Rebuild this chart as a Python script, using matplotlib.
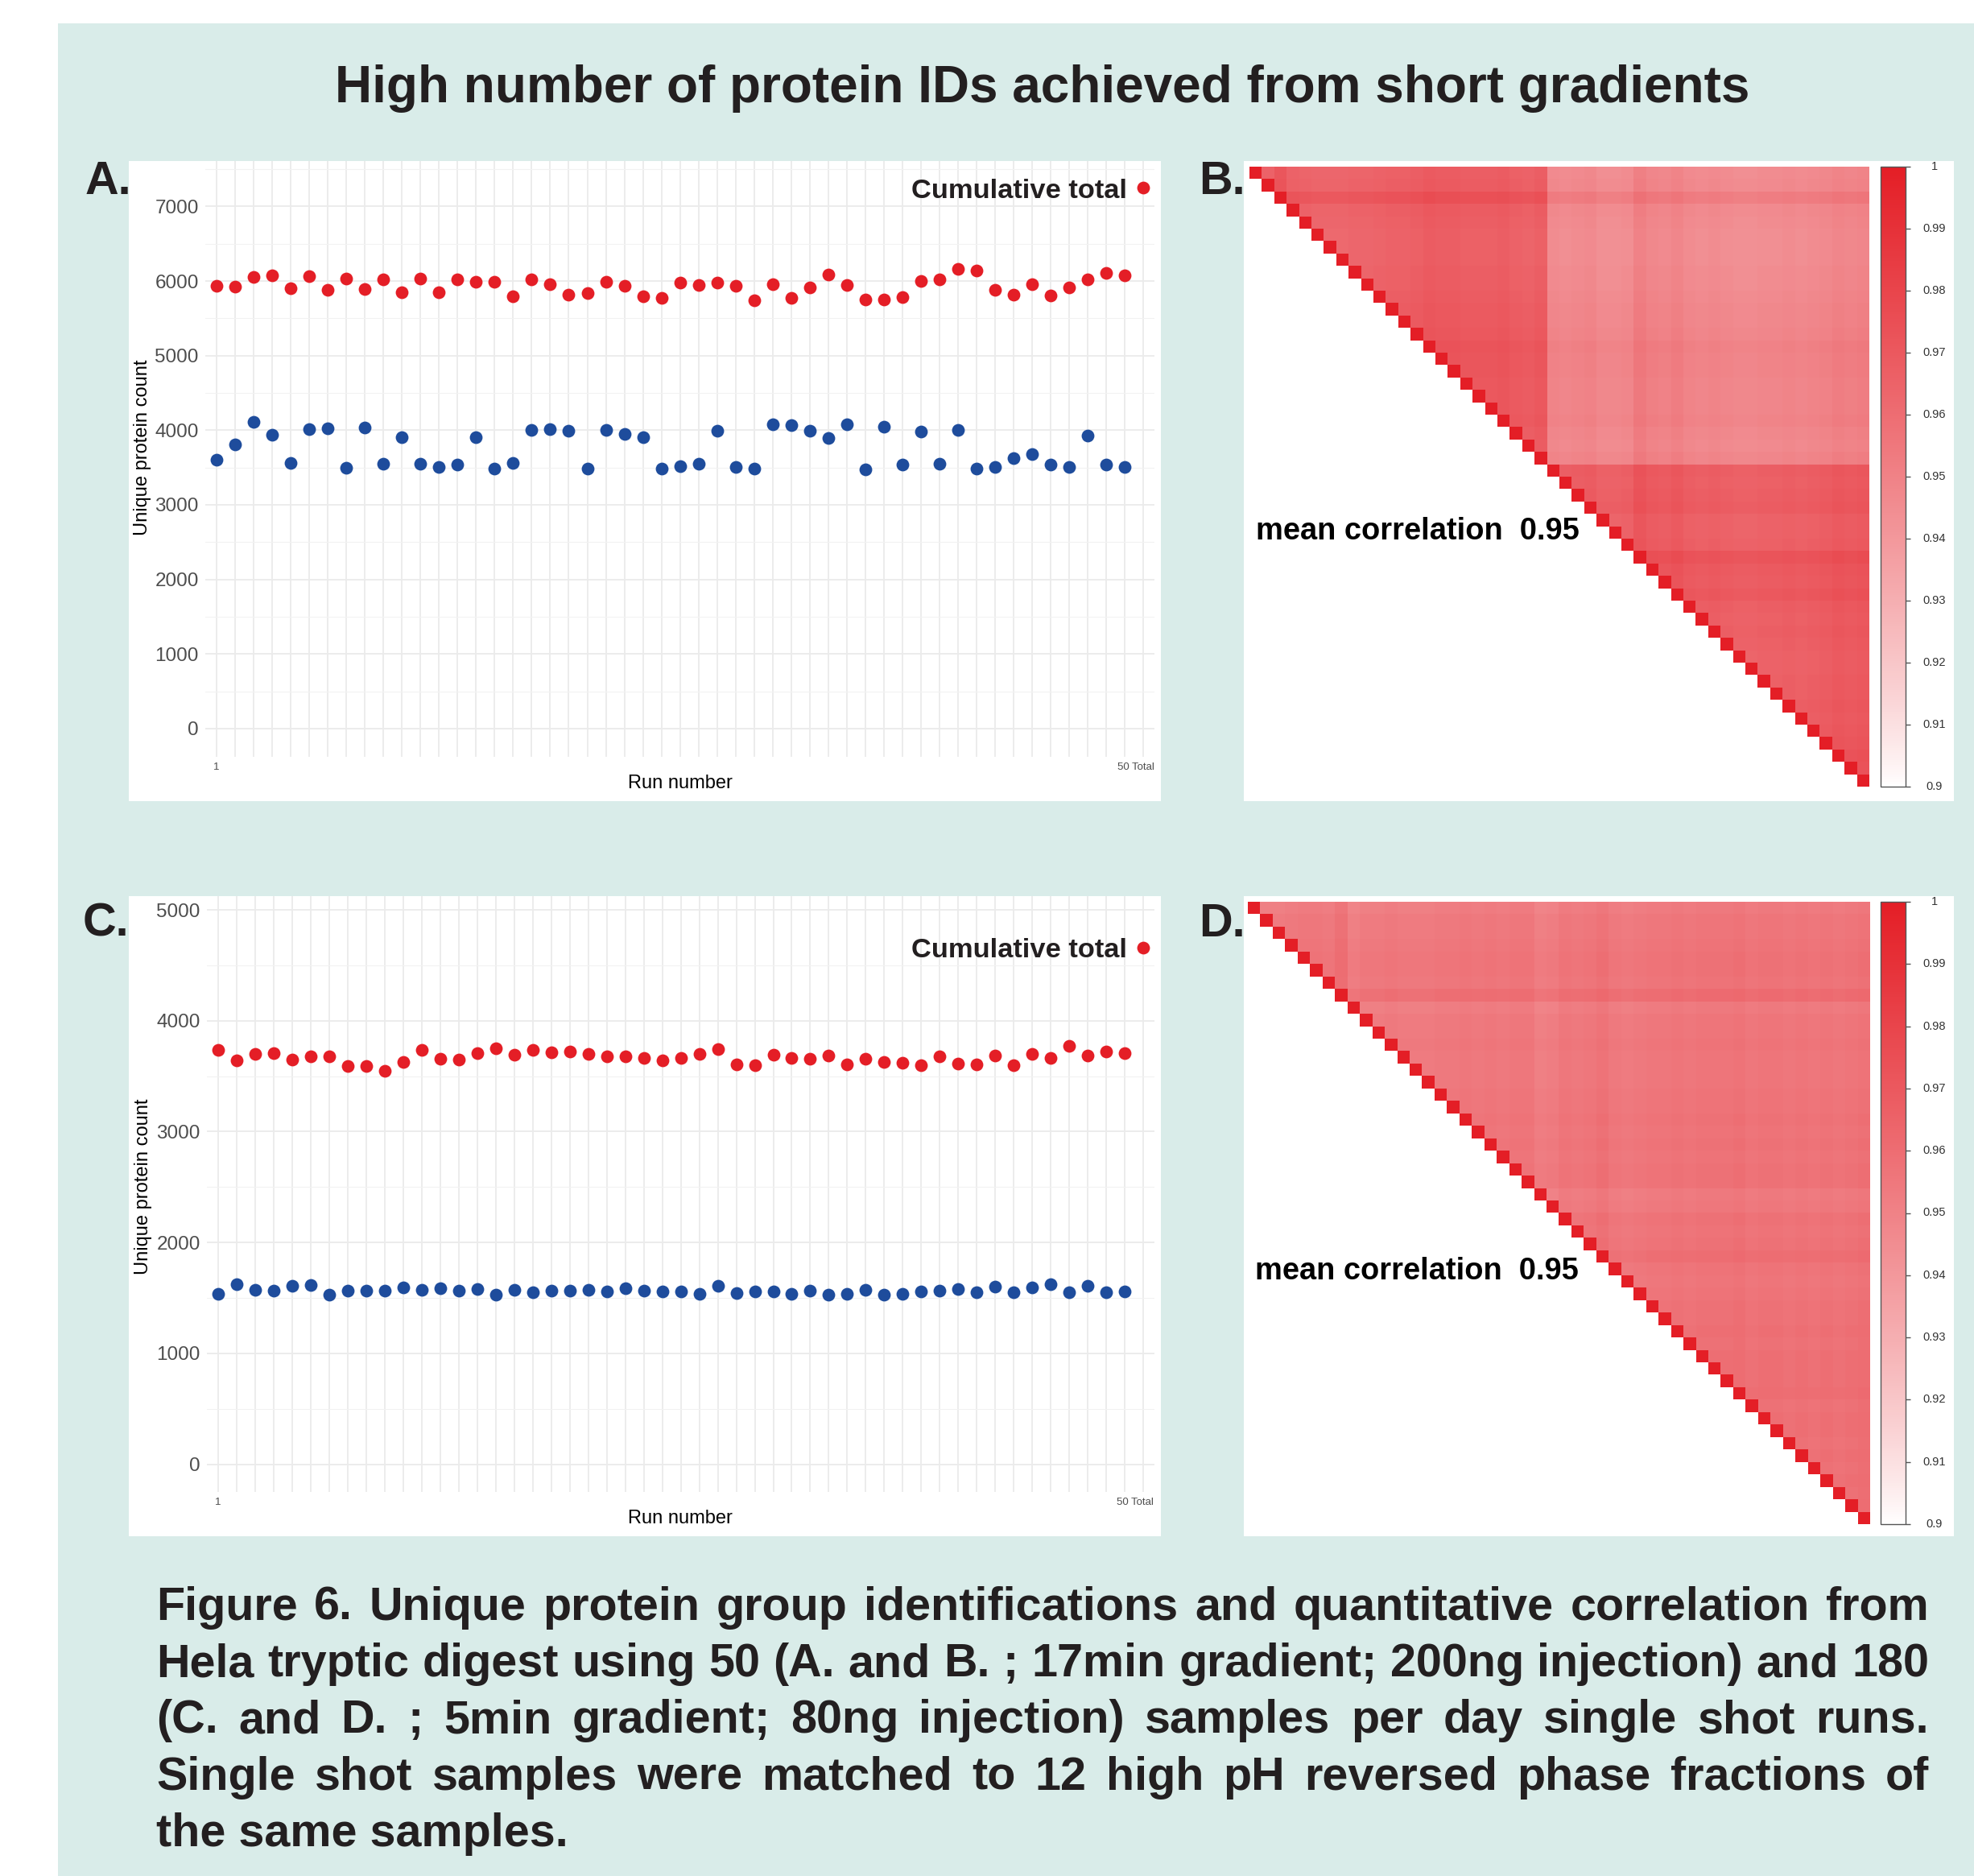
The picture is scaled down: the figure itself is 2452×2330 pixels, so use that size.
import numpy as np
import matplotlib
matplotlib.use('Agg')
import matplotlib.pyplot as plt
from matplotlib.colors import LinearSegmentedColormap, to_rgb
from matplotlib.patches import Rectangle
from matplotlib.ticker import MultipleLocator

plt.rcParams['font.family'] = ['Liberation Sans', 'DejaVu Sans']

W, H = 2452, 2330
TEAL = '#D9ECE9'
RED = '#E41E26'
BLUE = '#1E4C9C'
INK = '#231F20'

# ---- data ----
runs = np.arange(1, 51)

a_red = [5938, 5921, 6056, 6073, 5904, 6062, 5876, 6034, 5893, 6017,
         5853, 6028, 5853, 6023, 5989, 5994, 5791, 6017, 5960, 5819,
         5842, 5994, 5932, 5797, 5778, 5977, 5949, 5983, 5938, 5740,
         5955, 5768, 5910, 6090, 5944, 5751, 5751, 5780, 6000, 6017,
         6158, 6136, 5876, 5819, 5955, 5808, 5910, 6023, 6113, 6079]
a_blue = [3606, 3809, 4114, 3939, 3561, 4012, 4029, 3499, 4035, 3555,
          3905, 3555, 3510, 3544, 3911, 3487, 3566, 4007, 4012, 3995,
          3487, 4001, 3950, 3905, 3482, 3521, 3555, 3995, 3510, 3482,
          4074, 4069, 3990, 3894, 4074, 3476, 4046, 3538, 3984, 3555,
          4001, 3482, 3510, 3628, 3679, 3538, 3510, 3933, 3544, 3510]
a_total = 7253

c_red = [3734, 3643, 3700, 3707, 3647, 3677, 3677, 3593, 3590, 3548,
         3628, 3738, 3654, 3647, 3707, 3753, 3696, 3734, 3715, 3719,
         3704, 3677, 3677, 3666, 3639, 3662, 3704, 3746, 3609, 3602,
         3693, 3662, 3654, 3685, 3605, 3654, 3628, 3620, 3597, 3681,
         3617, 3609, 3689, 3597, 3704, 3666, 3776, 3689, 3719, 3708]
c_blue = [1538, 1622, 1576, 1565, 1606, 1614, 1527, 1568, 1565, 1565,
          1595, 1576, 1587, 1568, 1580, 1531, 1576, 1553, 1565, 1568,
          1576, 1557, 1587, 1568, 1557, 1561, 1534, 1610, 1542, 1557,
          1557, 1538, 1565, 1531, 1534, 1572, 1531, 1534, 1557, 1565,
          1580, 1553, 1599, 1553, 1591, 1625, 1550, 1610, 1553, 1557]
c_total = 4657

grid_x = list(range(1, 52))

# correlation heatmaps: block levels and per-sample shifts (estimated from shading)
b_groups = [0] * 24 + [1] * 26
b_levels = [[0.968, 0.949], [0.949, 0.970]]
b_shift = [-0.002, -0.001, 0.005, -0.001, -0.002, -0.003, -0.003, -0.003, -0.002, -0.002,
           -0.001, 0.000, 0.000, 0.001, 0.003, 0.002, 0.002, 0.001, 0.001, 0.001,
           0.002, 0.000, -0.001, 0.001,
           -0.001, -0.002, -0.001, 0.000, -0.003, -0.003, -0.002, 0.004, 0.001, 0.000,
           0.002, -0.001, -0.002, -0.001, -0.002, -0.003, -0.003, -0.002, -0.002, -0.001,
           -0.002, -0.001, 0.000, 0.002, 0.001, 0.002]

d_groups = [0] * 50
d_levels = [[0.955]]
d_shift = [-0.003, -0.001, -0.001, 0.000, 0.001, 0.001, 0.000, 0.004, -0.003, -0.001,
           -0.001, 0.000, -0.001, -0.001, -0.001, 0.000, 0.000, 0.001, 0.000, 0.001,
           0.000, 0.001, 0.001, -0.003, -0.002, 0.001, 0.000, 0.001, 0.003, 0.000,
           -0.001, 0.000, 0.001, 0.001, 0.002, 0.001, 0.002, 0.002, 0.002, 0.003,
           0.001, 0.002, 0.002, 0.001, 0.002, 0.001, 0.002, 0.001, 0.002, 0.003]

cb_ticks = [0.9, 0.91, 0.92, 0.93, 0.94, 0.95, 0.96, 0.97, 0.98, 0.99, 1.0]
cb_labels = ['0.9', '0.91', '0.92', '0.93', '0.94', '0.95', '0.96', '0.97', '0.98', '0.99', '1']

title = 'High number of protein IDs achieved from short gradients'
caption = ['Figure 6. Unique protein group identifications and quantitative correlation from',
           'Hela tryptic digest using 50 (A. and B. ; 17min gradient; 200ng injection) and 180',
           '(C. and D. ; 5min gradient; 80ng injection) samples per day single shot runs.',
           'Single shot samples were matched to 12 high pH reversed phase fractions of',
           'the same samples.']


def box(x0, y0, x1, y1):
    # pixel box (top-left origin) -> figure fraction rect
    return [x0 / W, 1 - y1 / H, (x1 - x0) / W, (y1 - y0) / H]


def ftext(x, y, s, **kw):
    return fig.text(x / W, 1 - y / H, s, **kw)


fig = plt.figure(figsize=(W / 100, H / 100), dpi=100)
fig.patch.set_facecolor('white')
fig.patches.append(Rectangle((72 / W, 0), 1 - 72 / W, 1 - 29 / H, transform=fig.transFigure,
                             facecolor=TEAL, edgecolor='none', zorder=-10))
for bx in [(160, 200, 1442, 995), (1545, 200, 2427, 995),
           (160, 1113, 1442, 1908), (1545, 1113, 2427, 1908)]:
    r = box(*bx)
    fig.patches.append(Rectangle((r[0], r[1]), r[2], r[3], transform=fig.transFigure,
                                 facecolor='white', edgecolor='none', zorder=-9))


def scatter_panel(rect, ylim, ymax_tick, red, blue, total, legend_y):
    ax = fig.add_axes(rect)
    ax.set_facecolor('none')
    ax.set_xlim(0.4, 51.6)
    ax.set_ylim(*ylim)
    ax.set_xticks(grid_x)
    ax.set_xticklabels([])
    ax.set_yticks(np.arange(0, ymax_tick + 1, 1000))
    ax.yaxis.set_minor_locator(MultipleLocator(500))
    ax.grid(True, which='major', color='#EBEBEB', lw=1.3)
    ax.grid(True, which='minor', axis='y', color='#F2F2F2', lw=0.8)
    ax.set_axisbelow(True)
    for s in ax.spines.values():
        s.set_visible(False)
    ax.tick_params(axis='y', which='both', length=0, labelsize=17.5, labelcolor='#4D4D4D', pad=6)
    ax.tick_params(axis='x', length=0)
    tr = ax.get_xaxis_transform()
    ax.text(1, -0.018, '1', transform=tr, ha='center', va='center', fontsize=9.5, color='#4D4D4D')
    ax.text(50.57, -0.018, '50 Total', transform=tr, ha='center', va='center',
            fontsize=9.5, color='#4D4D4D')
    ax.scatter(runs, red, s=130, color=RED, lw=0, zorder=3)
    ax.scatter(runs, blue, s=130, color=BLUE, lw=0, zorder=3)
    ax.scatter([51], [total], s=130, color=RED, lw=0, zorder=3)
    ax.text(50.1, legend_y, 'Cumulative total', ha='right', va='baseline',
            fontsize=24.8, fontweight='bold', color=INK)
    return ax


# white -> red ramp, slightly bent towards red in the middle
r0, r1 = np.array(to_rgb('#FFFFFF')), np.array(to_rgb(RED))
ramp = [r0 + (r1 - r0) * t ** 0.85 for t in np.linspace(0, 1, 256)]
cmap = LinearSegmentedColormap.from_list('wr', ramp)
cmap.set_bad('white')


def heat_panel(rect, crect, levels, groups, shift, text_xy):
    n = len(shift)
    g = np.array(groups)
    e = np.array(shift)
    m = np.array(levels)[g[:, None], g[None, :]] + e[:, None] + e[None, :]
    np.fill_diagonal(m, 1.0)
    m[np.tril_indices(n, -1)] = np.nan
    ax = fig.add_axes(rect)
    im = ax.imshow(m, cmap=cmap, vmin=0.9, vmax=1.0, aspect='auto',
                   interpolation='nearest', extent=(0.5, n + 0.5, n + 0.5, 0.5))
    ax.axis('off')
    ftext(text_xy[0], text_xy[1], 'mean correlation  0.95', fontsize=27.4,
          fontweight='bold', color='black', va='baseline')
    cax = fig.add_axes(crect)
    cb = fig.colorbar(im, cax=cax, ticks=cb_ticks)
    cb.outline.set_edgecolor('#555555')
    cb.outline.set_linewidth(1.0)
    cax.tick_params(length=4, width=1, color='#555555', labelright=False)
    for t, lab in zip(cb_ticks, cb_labels):
        cax.text(2.16, t, lab, transform=cax.get_yaxis_transform(), ha='center',
                 va='center', fontsize=10.5, color='#333333')


scatter_panel(box(255.1, 200, 1434.2, 940), (-378, 7608), 7000, a_red, a_blue, a_total, 7107)
scatter_panel(box(257.0, 1113, 1434.1, 1853), (-250, 5124), 5000, c_red, c_blue, c_total, 4573)

heat_panel(box(1552, 207, 2322, 977), box(2336, 207, 2367, 977),
           b_levels, b_groups, b_shift, (1560, 670))
heat_panel(box(1550, 1120, 2322, 1893), box(2336, 1120, 2367, 1893),
           d_levels, d_groups, d_shift, (1559, 1589))

# axis titles of the scatter panels
for yl, xl in [((177, 556), (845, 973)), ((178, 1474), (845, 1886))]:
    ftext(yl[0], yl[1], 'Unique protein count', rotation=90, ha='center', va='center',
          fontsize=17, color='black')
    ftext(xl[0], xl[1], 'Run number', ha='center', va='center', fontsize=17, color='black')

# panel letters
for lab, x, y in [('A.', 106, 241), ('B.', 1489, 241), ('C.', 103, 1163), ('D.', 1489, 1163)]:
    ftext(x, y, lab, fontsize=41.5, fontweight='bold', color=INK, va='baseline', zorder=5)

ftext(1295, 127, title, ha='center', va='baseline', fontsize=46, fontweight='bold', color=INK)

# justified caption, size chosen so the widest line still fits
renderer = fig.canvas.get_renderer()
x_left, x_right = 194, 2396
probe = [ftext(0, 0, line, fontsize=40, fontweight='bold') for line in caption[:-1]]
widest = max(t.get_window_extent(renderer).width for t in probe)
for t in probe:
    t.remove()
cap_size = min(42.2, 40 * (x_right - x_left - 12) / widest)

for i, line in enumerate(caption):
    y = 2012 + i * 70.2
    if i == len(caption) - 1:
        ftext(x_left, y, line, fontsize=cap_size, fontweight='bold', color=INK, va='baseline')
        continue
    words = line.split(' ')
    texts = [ftext(0, y, w, fontsize=cap_size, fontweight='bold', color=INK, va='baseline')
             for w in words]
    widths = [t.get_window_extent(renderer).width for t in texts]
    gap = (x_right - x_left - sum(widths)) / (len(words) - 1)
    x = x_left
    for t, w in zip(texts, widths):
        t.set_x(x / W)
        x += w + gap

fig.savefig('out.png', dpi=100)
